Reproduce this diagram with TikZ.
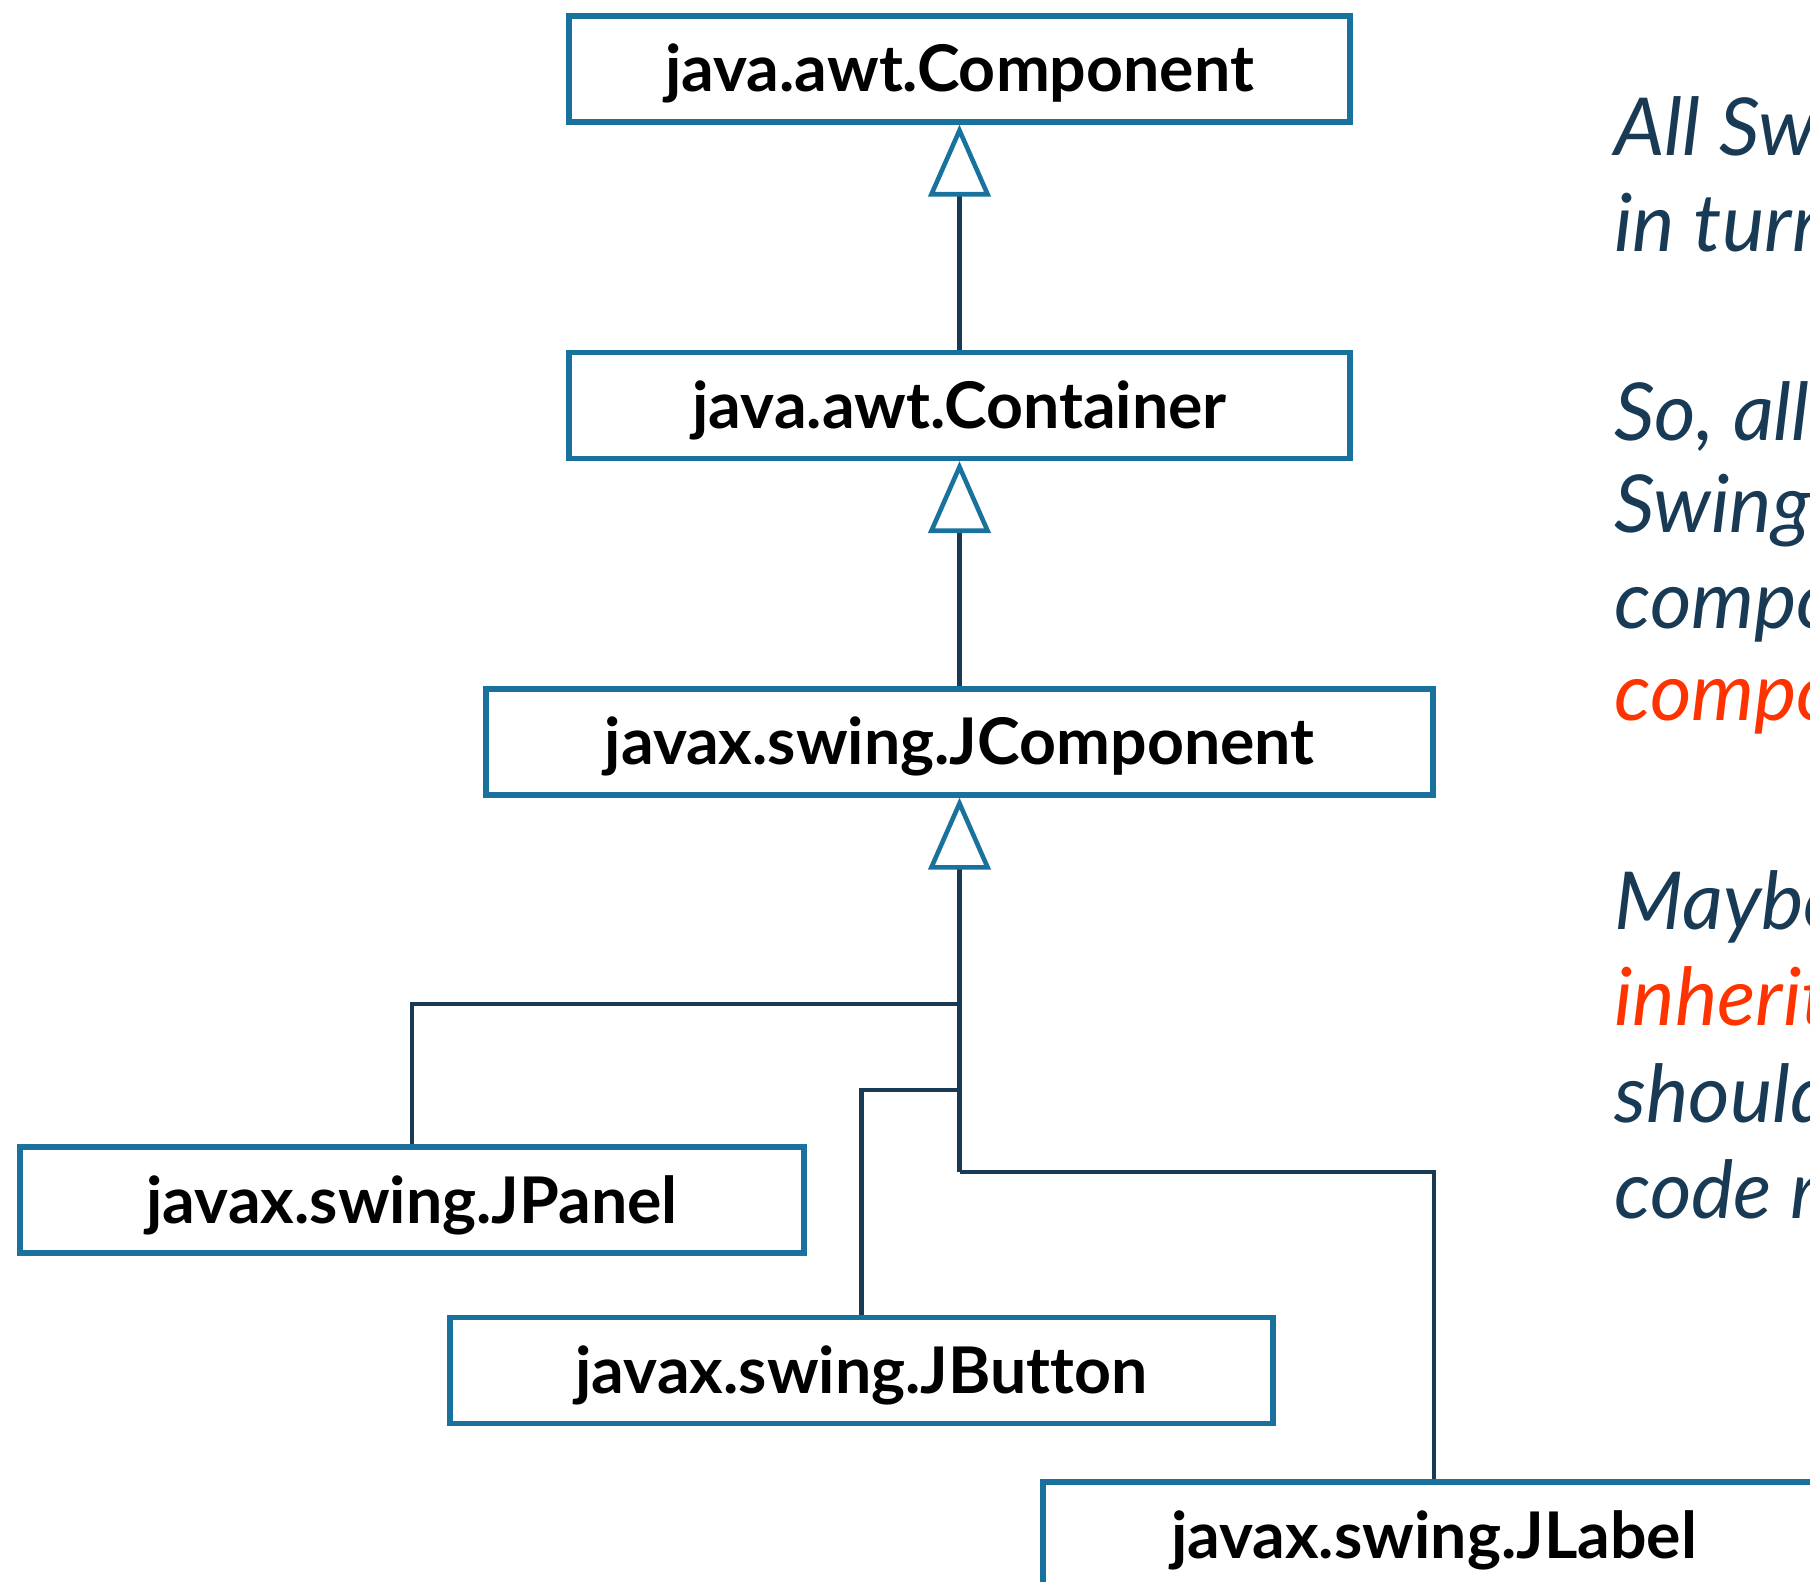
\documentclass[tikz,border=0pt]{standalone}
\usepackage{fontspec}
\setmainfont{Lato}[Ligatures=NoCommon]
\usetikzlibrary{arrows.meta}
\definecolor{boxblue}{RGB}{25,114,157}
\definecolor{linenavy}{RGB}{24,58,85}
\definecolor{hotred}{RGB}{255,51,0}

\begin{document}
\begin{tikzpicture}[x=0.5pt, y=-0.5pt,
	cls/.style={draw=boxblue, line width=2.6pt, fill=white, inner sep=0pt, minimum height=53pt, text height=23pt, text depth=0pt, font=\fontsize{32.2}{38}\selectfont\bfseries},
	lnk/.style={draw=linenavy, line width=2.3pt},
	inh/.style={lnk, -{Triangle[open, length=36pt, width=31pt, color=boxblue]}},
	note/.style={anchor=base west, inner sep=0pt, text=linenavy, font=\fontsize{40}{48}\selectfont\itshape}]
			\useasboundingbox (0,0) rectangle (1810,1582);
			\clip (0,0) rectangle (1810,1582);
			
			% Klassen
			\node[cls, minimum width=390.5pt] (comp) at (959.5, 69) {java.awt.Component};
			\node[cls, minimum width=390.5pt] (cont) at (959.5, 405.5) {java.awt.Container};
			\node[cls, minimum width=473.5pt] (jcomp) at (959.5, 742) {javax.swing.JComponent};
			\node[cls, minimum width=392pt] (jpanel) at (412, 1200) {javax.swing.JPanel};
			\node[cls, minimum width=411.5pt] (jbutton) at (861.5, 1370.5) {javax.swing.JButton};
			\node[cls, minimum width=391pt] (jlabel) at (1434, 1535) {javax.swing.JLabel};
			
			% Vererbung
			\coordinate (s1) at (959.5, 1004);
			\coordinate (s2) at (959.5, 1090);
			\coordinate (s3) at (959.5, 1172);
			
			\draw[inh] (cont) -- (comp);
			\draw[inh] (jcomp) -- (cont);
			\draw[inh] (s3) -- (jcomp);
			\draw[lnk] (jpanel) |- (s1);
			\draw[lnk] (jbutton) |- (s2);
			\draw[lnk] (jlabel) |- (s3);
			
			% Text rechts
			\node[note] (t1) at (1614, 156) {All Swing};
			\node[note] (t2) at (1614, 252) {in turn};
			\node[note] (t3) at (1614, 441) {So, all};
			\node[note] (t4) at (1614, 533) {Swing};
			\node[note] (t5) at (1614, 629) {components};
			\node[note, text=hotred] (t6) at (1614, 721) {components};
			\node[note] (t7) at (1614, 929) {Maybe};
			\node[note, text=hotred] (t8) at (1614, 1025) {inherit};
			\node[note] (t9) at (1614, 1122) {should};
			\node[note] (t10) at (1614, 1218) {code re};
		\end{tikzpicture}
\end{document}
